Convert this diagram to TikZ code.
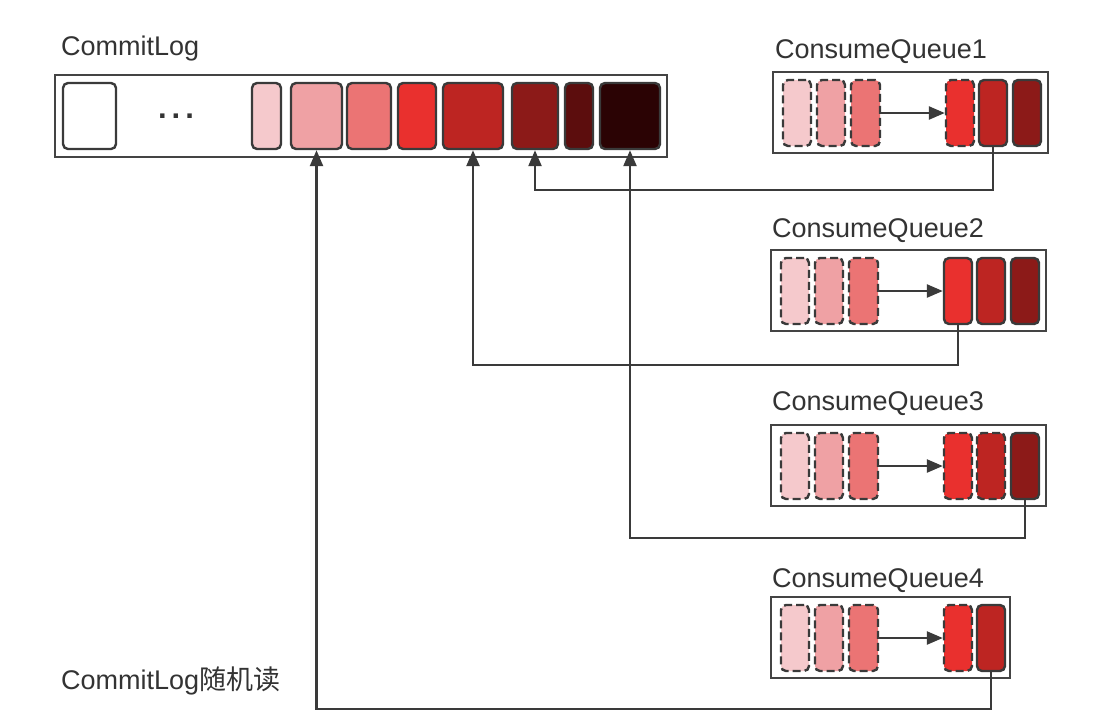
\documentclass[tikz,border=0pt]{standalone}
\usepackage{fontspec}
\setmainfont{Liberation Sans}
\newfontfamily\cjk{Noto Sans CJK SC}
\usetikzlibrary{arrows.meta}
\definecolor{pinkA}{HTML}{F5C9CC}
\definecolor{pinkB}{HTML}{EFA1A4}
\definecolor{pinkC}{HTML}{EB7474}
\definecolor{redD}{HTML}{E9302E}
\definecolor{redE}{HTML}{BD2522}
\definecolor{redF}{HTML}{8C1A18}
\definecolor{redG}{HTML}{5C0D0D}
\definecolor{redH}{HTML}{2B0304}
\definecolor{edgeC}{HTML}{3A3A3A}
\definecolor{frameC}{HTML}{444444}
\definecolor{lineC}{HTML}{3A3A3A}
\definecolor{textC}{HTML}{333333}
\begin{document}
\begin{tikzpicture}[x=1pt,y=-1pt,
  framebox/.style={draw=frameC, line width=2.4pt, inner sep=0pt},
  cellbox/.style={draw=edgeC, line width=2.4pt, rounded corners=5pt, inner sep=0pt, minimum height=66pt},
  dcell/.style={cellbox, dash pattern=on 8pt off 4pt},
  lbl/.style={font=\fontsize{27}{32}\selectfont, text=textC, anchor=base west, inner sep=0pt},
  link/.style={draw=lineC, line width=2.4pt, -{Triangle[length=16pt,width=13pt]}}
]
\useasboundingbox (0,0) rectangle (1118,724);
\fill[white] (0,0) rectangle (1118,724);

% CommitLog
\node[lbl] (cltitle) at (61,55) {CommitLog};
\node[framebox, minimum width=612pt, minimum height=82pt] (cl) at (361,116) {};
\node[cellbox, fill=white, minimum width=53pt] (w0) at (89.5,116) {};
\node[font=\fontsize{31}{36}\selectfont\bfseries, text=textC, anchor=base, inner sep=0pt] (dots) at (176,118) {.\hspace{5pt}.\hspace{5pt}.};
\node[cellbox, fill=pinkA, minimum width=29pt] (c1) at (266.5,116) {};
\node[cellbox, fill=pinkB, minimum width=51pt] (c2) at (316.5,116) {};
\node[cellbox, fill=pinkC, minimum width=44pt] (c3) at (369,116) {};
\node[cellbox, fill=redD, minimum width=38pt] (c4) at (417,116) {};
\node[cellbox, fill=redE, minimum width=60pt] (c5) at (473,116) {};
\node[cellbox, fill=redF, minimum width=46pt] (c6) at (535,116) {};
\node[cellbox, fill=redG, minimum width=28pt] (c7) at (579,116) {};
\node[cellbox, fill=redH, minimum width=60pt] (c8) at (630,116) {};

% ConsumeQueue1 (L=773, T=72)
\node[lbl] (q1t) at (775,58) {ConsumeQueue1};
\node[framebox, minimum width=275pt, minimum height=81pt] (q1) at (910.5,112.5) {};
\node[dcell, fill=pinkA, minimum width=28pt] (q1d1) at (797,113) {};
\node[dcell, fill=pinkB, minimum width=28pt] (q1d2) at (831,113) {};
\node[dcell, fill=pinkC, minimum width=29pt] (q1d3) at (865.5,113) {};
\node[dcell, fill=redD, minimum width=28pt] (q1s1) at (960,113) {};
\node[cellbox, fill=redE, minimum width=28pt] (q1s2) at (993,113) {};
\node[cellbox, fill=redF, minimum width=28pt] (q1s3) at (1027,113) {};
\draw[link] (q1d3.east) -- (q1s1.west);

% ConsumeQueue2 (L=771, T=250)
\node[lbl] (q2t) at (772,237) {ConsumeQueue2};
\node[framebox, minimum width=275pt, minimum height=81pt] (q2) at (908.5,290.5) {};
\node[dcell, fill=pinkA, minimum width=28pt] (q2d1) at (795,291) {};
\node[dcell, fill=pinkB, minimum width=28pt] (q2d2) at (829,291) {};
\node[dcell, fill=pinkC, minimum width=29pt] (q2d3) at (863.5,291) {};
\node[cellbox, fill=redD, minimum width=28pt] (q2s1) at (958,291) {};
\node[cellbox, fill=redE, minimum width=28pt] (q2s2) at (991,291) {};
\node[cellbox, fill=redF, minimum width=28pt] (q2s3) at (1025,291) {};
\draw[link] (q2d3.east) -- (q2s1.west);

% ConsumeQueue3 (L=771, T=425)
\node[lbl] (q3t) at (772,410) {ConsumeQueue3};
\node[framebox, minimum width=275pt, minimum height=81pt] (q3) at (908.5,465.5) {};
\node[dcell, fill=pinkA, minimum width=28pt] (q3d1) at (795,466) {};
\node[dcell, fill=pinkB, minimum width=28pt] (q3d2) at (829,466) {};
\node[dcell, fill=pinkC, minimum width=29pt] (q3d3) at (863.5,466) {};
\node[dcell, fill=redD, minimum width=28pt] (q3s1) at (958,466) {};
\node[dcell, fill=redE, minimum width=28pt] (q3s2) at (991,466) {};
\node[cellbox, fill=redF, minimum width=28pt] (q3s3) at (1025,466) {};
\draw[link] (q3d3.east) -- (q3s1.west);

% ConsumeQueue4 (L=771, T=597)
\node[lbl] (q4t) at (772,587) {ConsumeQueue4};
\node[framebox, minimum width=239pt, minimum height=81pt] (q4) at (890.5,637.5) {};
\node[dcell, fill=pinkA, minimum width=28pt] (q4d1) at (795,638) {};
\node[dcell, fill=pinkB, minimum width=28pt] (q4d2) at (829,638) {};
\node[dcell, fill=pinkC, minimum width=29pt] (q4d3) at (863.5,638) {};
\node[dcell, fill=redD, minimum width=28pt] (q4s1) at (958,638) {};
\node[cellbox, fill=redE, minimum width=28pt] (q4s2) at (991,638) {};
\draw[link] (q4d3.east) -- (q4s1.west);

% bottom label
\node[lbl] (rd) at (61,689) {CommitLog{\cjk 随机读}};

% connectors
\coordinate (h1) at (0,190);
\coordinate (h2) at (0,365);
\coordinate (h3) at (0,538);
\coordinate (h4) at (0,709);
\draw[link] (q1s2.south) -- (q1s2.south |- h1) -| (c6.south);
\draw[link] (q2s1.south) -- (q2s1.south |- h2) -| (c5.south);
\draw[link] (q3s3.south) -- (q3s3.south |- h3) -| (c8.south);
\draw[link] (q4s2.south) -- (q4s2.south |- h4) -| (c2.south);
\end{tikzpicture}
\end{document}
